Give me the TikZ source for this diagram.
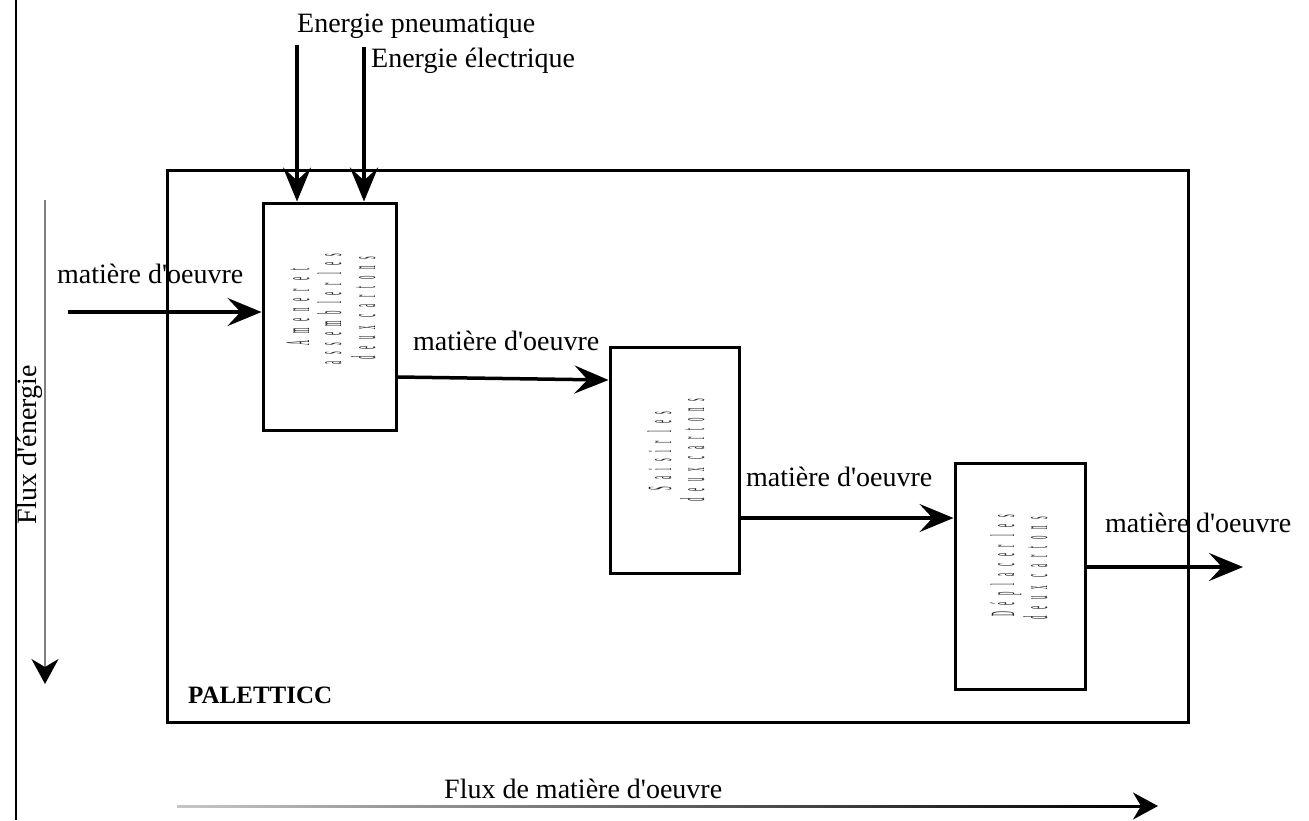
\documentclass[tikz,border=0pt]{standalone}
\usepackage{fontspec}
\usepackage{graphicx}
\setmainfont{Liberation Serif}[Ligatures=TeXOff]
\usetikzlibrary{arrows.meta}
\newcommand{\garb}[1]{\scalebox{0.2}[1]{\fontsize{34}{34}\selectfont\addfontfeature{LetterSpace=100}#1}}
\tikzset{
  lbl/.style={inner sep=0pt, anchor=base west, font=\fontsize{28}{30}\selectfont},
  box/.style={draw, line width=3pt, inner sep=0pt},
  conn/.style={line width=3.5pt, -{Stealth[length=34pt,width=28pt,inset=13pt]}},
  tiny/.style={inner sep=0pt, anchor=base, rotate=90, text=black!85},
  chev/.style={-{Stealth[length=25pt,width=27pt,inset=8pt,color=black]}}
}
\begin{document}
\begin{tikzpicture}[x=1pt,y=-1pt]
\useasboundingbox (0,0) rectangle (1309,820);
% left black line
\draw[line width=2pt] (16,0) -- (16,820);
% energy flux arrow (vertical)
\coordinate (fe1) at (45,200);
\coordinate (fe2) at (45,684);
\draw[line width=1.5pt, gray, chev] (fe1) -- (fe2);
\node[tiny, text=black, font=\fontsize{28}{30}\selectfont] (fluxe) at (36,445) {Flux d'énergie};
% outer system box
\node[box, minimum width=1021pt, minimum height=552pt] (sys) at (677.5,446) {};
\node[inner sep=0pt, anchor=base west, font=\fontsize{25}{27}\selectfont\bfseries] (pal) at (188,703) {PALETTICC};
% function boxes
\node[box, minimum width=133pt, minimum height=227pt] (b1) at (329.5,316.5) {};
\node[box, minimum width=129pt, minimum height=226pt] (b2) at (674.5,460) {};
\node[box, minimum width=130pt, minimum height=226pt] (b3) at (1020,576) {};
% garbled inner texts
\node[tiny] (t1a) at (309,307) {\garb{Amener et}};
\node[tiny] (t1b) at (341,309) {\garb{assembler les}};
\node[tiny] (t1c) at (375,308) {\garb{deux cartons}};
\node[tiny] (t2a) at (671,451) {\garb{Saisir les}};
\node[tiny] (t2b) at (704,450) {\garb{deux cartons}};
\node[tiny] (t3a) at (1014,566) {\garb{Déplacer les}};
\node[tiny] (t3b) at (1047,568) {\garb{deux cartons}};
% energy inputs
\coordinate (ep) at (297,45);
\coordinate (ee) at (364,47);
\draw[conn] (ep) -- (ep |- b1.north);
\draw[conn] (ee) -- (ee |- b1.north);
\node[lbl] (lep) at (297,32) {Energie pneumatique};
\node[lbl] (lee) at (371,67) {Energie électrique};
% material flow
\coordinate (min) at (68,312);
\draw[conn] (min) -- (min -| b1.west);
\node[lbl] (l1) at (57,283) {matière d'oeuvre};
\coordinate (m2a) at (396,377);
\coordinate (m2b) at (610,380);
\draw[conn] (m2a -| b1.east) -- (m2b -| b2.west);
\node[lbl] (l2) at (413,350) {matière d'oeuvre};
\coordinate (m3) at (740,518);
\draw[conn] (m3 -| b2.east) -- (m3 -| b3.west);
\node[lbl] (l3) at (746,486) {matière d'oeuvre};
\coordinate (mout) at (1243,567);
\draw[conn] (mout -| b3.east) -- (mout);
\node[lbl] (l4) at (1105,532) {matière d'oeuvre};
% bottom material flux arrow
\coordinate (fm1) at (177,806);
\coordinate (fm2) at (1158,806);
\shade[left color=gray!45, right color=black] (177,805) rectangle (1140,807.5);
\draw[line width=2pt, chev] (1125,806) -- (fm2);
\node[lbl] (lfm) at (444,798) {Flux de matière d'oeuvre};
\end{tikzpicture}
\end{document}
